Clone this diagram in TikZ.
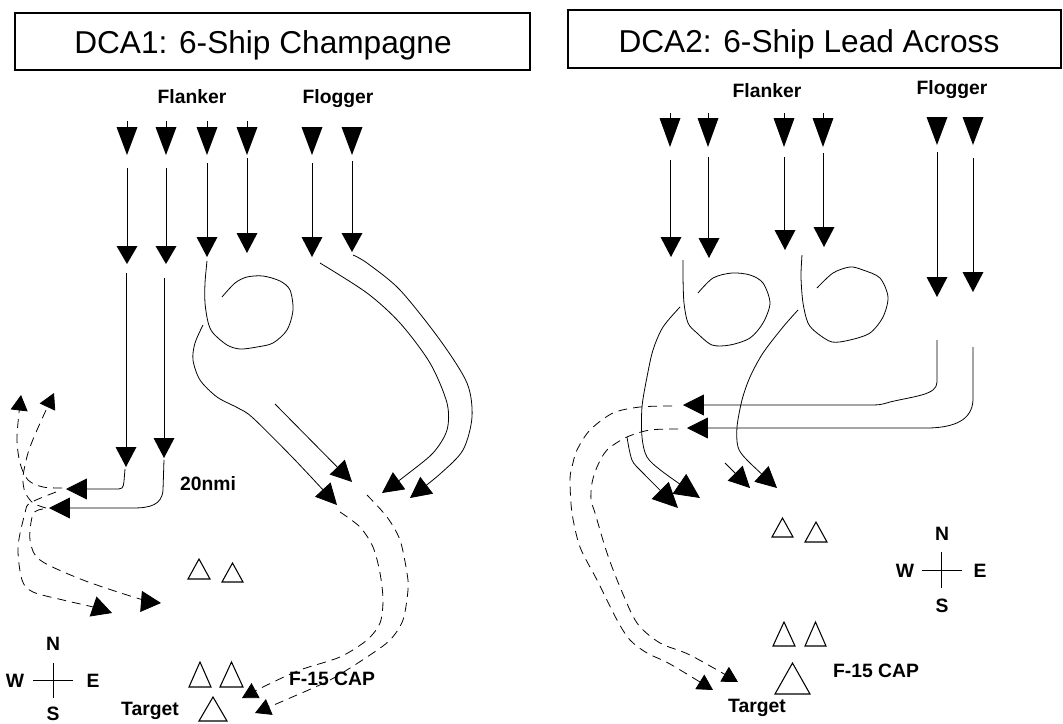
\documentclass[tikz,border=0pt]{standalone}
\usepackage{fontspec}
\setmainfont{Liberation Sans}
\usetikzlibrary{arrows.meta}

% filled jet, apex down: [height]{x}{top}
\newcommand{\jet}[3][20]{\fill (#2-10.5,#3) -- (#2+10.5,#3) -- (#2,#3+#1) -- cycle;}
% hollow CAP jet: {x}{apex}{height}{half width}
\newcommand{\capjet}[4]{\draw[line width=0.6pt] (#1,#2) -- (#1+#4,#2+#3) -- (#1-#4,#2+#3) -- cycle;}

\begin{document}
\begin{tikzpicture}[x=0.02cm,y=-0.02cm,line width=0.45pt,
  trk/.style={-{Triangle[length=4.2mm,width=4.2mm]}},
  btrk/.style={-{Triangle[length=5mm,width=4.8mm]}},
  dtrk/.style={-{Triangle[length=3.1mm,width=3.4mm]},dash pattern=on 1.8mm off 1.2mm},
  bdtrk/.style={dtrk,-{Triangle[length=4mm,width=4.2mm]}},
  ttl/.style={anchor=base,font=\fontsize{18}{22}\selectfont},
  lbl/.style={anchor=base,font=\fontsize{11}{13}\selectfont\bfseries}]
\useasboundingbox (0,0) rectangle (1063,724);

% title boxes
\draw[line width=0.6pt] (15,13) rectangle (530,70);
\node[ttl] (ttlA) at (263,53) {DCA1: 6-Ship Champagne};
\draw[line width=0.6pt] (568,10) rectangle (1061,68);
\node[ttl] (ttlB) at (809,52) {DCA2: 6-Ship Lead Across};

% group labels
\node[lbl] (flkA) at (192,103) {Flanker};
\node[lbl] (flgA) at (338,103) {Flogger};
\node[lbl] (flkB) at (767,97) {Flanker};
\node[lbl] (flgB) at (952,94) {Flogger};

% ---- DCA1 ----
% entry row
\foreach \x in {127,166,207,247,312,352} {\jet[28]{\x}{127}}
\foreach \x in {127,166,207,247} {\draw (\x,121) -- (\x,127);}
% run-in legs
\foreach \x/\a/\b in {127/168/246,166/168/246,207/163/237,247/158/233,312/163/237,352/161/233} {\draw (\x,\a) -- (\x,\b);}
\jet[18]{127}{246} \jet[18]{166}{246} \jet{207}{237} \jet{247}{233} \jet{312}{237} \jet[19]{352}{233}
\draw (126,273) -- (126,447);
\draw (164,278) -- (164,438);
\jet{126}{447} \jet{164}{438}
% drag west
\draw[trk] (125,469) -- (124,481) .. controls (123,489) .. (114,489) -- (66,489);
\draw[trk] (164,460) -- (163,490) .. controls (162,505) and (150,508) .. (133,508) -- (49,508);
% pitch back, dashed
\draw[dtrk] plot[smooth] coordinates {(62,488) (43,487) (28,480) (20,463) (17,437) (21,395)};
\draw[dtrk] plot[smooth] coordinates {(46,508) (33,503) (25,492) (23,477) (28,453) (37,430) (54,393)};
\draw[bdtrk] plot[smooth] coordinates {(56,492) (30,503) (25,513) (18,547) (22,580) (33,592) (63,600) (93,607) (112,613)};
\draw[bdtrk] plot[smooth] coordinates {(43,509) (33,514) (30,540) (40,560) (83,580) (140,599) (161,603)};
% second element: loop and run
\draw plot[smooth] coordinates {(207,261) (205,283) (205,303) (208,322) (213,333) (227,345) (240,349) (257,347) (273,343) (287,330) (293,310) (290,290) (280,281) (263,276) (247,277) (235,283) (222,297)};
\draw[trk] plot[smooth] coordinates {(203,325) (195,343) (193,360) (200,380) (217,397) (238,408) (253,418) (295,460) (337,505)};
\draw[trk] (275,404) -- (352,482);
% Floggers
\draw[trk] plot[smooth] coordinates {(320,263) (367,293) (400,323) (430,363) (447,403) (447,430) (433,453) (405,476) (382,493)};
\draw[trk] plot[smooth] coordinates {(353,255) (367,263) (400,290) (440,340) (467,383) (472,417) (463,450) (440,474) (410,498)};
\draw[dtrk] plot[smooth] coordinates {(340,512) (360,527) (373,547) (380,573) (383,600) (380,623) (367,640) (340,657) (300,670) (265,686) (242,698)};
\draw[dtrk] plot[smooth] coordinates {(367,495) (387,517) (400,540) (407,573) (408,590) (403,620) (390,640) (367,657) (330,680) (290,698) (255,713)};
% CAP and target
\capjet{199}{559}{20}{11} \capjet{232.5}{563}{19}{10.5}
\capjet{200}{662}{25}{11} \capjet{231.5}{662}{25}{11.5}
\capjet{213}{697}{24}{14}
\node[lbl] (nmiA) at (208,490) {20nmi};
\node[lbl] (tgtA) at (150,715) {Target};
\node[lbl] (capA) at (332,685) {F-15 CAP};
% compass
\draw (33,680) -- (73,680) (53,663) -- (53,698);
\node[lbl] (nA) at (53,650) {N};
\node[lbl] (wA) at (15,687) {W};
\node[lbl] (eA) at (93,687) {E};
\node[lbl] (sA) at (53,720) {S};

% ---- DCA2 ----
\foreach \x in {670,708,784,823} {\jet[29]{\x}{118} \draw (\x,113) -- (\x,118);}
\jet[28]{937}{117} \jet[28]{973}{117}
\foreach \x/\a/\b in {670/160/237,708/157/238,784/157/230,823/153/227,937/152/277,973/158/272} {\draw (\x,\a) -- (\x,\b);}
\jet{671}{237} \jet{709}{238} \jet{785}{230} \jet{824}{227} \jet{937}{277} \jet{973}{272}
% loops
\draw plot[smooth] coordinates {(683,260) (683,277) (684,303) (688,323) (697,333) (712,345) (730,345) (750,338) (763,323) (770,303) (763,283) (750,275) (732,273) (713,278) (698,293)};
\draw plot[smooth] coordinates {(802,255) (801,277) (803,303) (808,323) (817,333) (832,342) (850,340) (870,333) (883,317) (888,297) (880,278) (863,270) (850,267) (833,273) (817,288)};
\draw[btrk] plot[smooth] coordinates {(680,307) (663,327) (653,350) (647,377) (642,407) (642,437) (647,457) (663,472) (700,498)};
\draw[btrk] plot[smooth] coordinates {(627,437) (632,460) (643,473) (678,508)};
\draw[trk] plot[smooth] coordinates {(798,310) (783,327) (763,353) (750,377) (742,400) (737,427) (738,447) (747,460) (777,488)};
\draw[trk] (725,463) -- (750,488);
% Floggers lead across
\draw[trk] (937,340) -- (937,382) .. controls (937,395) and (915,396) .. (890,402) .. controls (880,405) .. (865,405) -- (683,405);
\draw[trk] (973,347) -- (973,400) .. controls (972,420) and (955,427) .. (930,428) -- (687,428);
\draw[dtrk] plot[smooth] coordinates {(672,406) (640,407) (613,413) (590,430) (577,450) (572,467) (570,480) (572,513) (580,547) (597,580) (617,620) (630,640) (647,653) (670,664) (713,690)};
\draw[dtrk] plot[smooth] coordinates {(678,429) (650,430) (627,437) (607,450) (597,467) (592,483) (591,500) (595,513) (607,553) (620,587) (637,623) (660,643) (690,655) (738,682)};
% CAP and target
\capjet{782.5}{518}{19}{10.5} \capjet{816}{522}{20}{11}
\capjet{784}{622}{24}{11} \capjet{815.5}{622}{24}{10.5}
\capjet{792.5}{663}{31}{17.5}
\node[lbl] (capB) at (876,677) {F-15 CAP};
\node[lbl] (tgtB) at (757,712) {Target};
% compass
\draw (922,570) -- (962,570) (941,552) -- (941,588);
\node[lbl] (nB) at (942,540) {N};
\node[lbl] (wB) at (905,577) {W};
\node[lbl] (eB) at (980,577) {E};
\node[lbl] (sB) at (942,612) {S};
\end{tikzpicture}
\end{document}
